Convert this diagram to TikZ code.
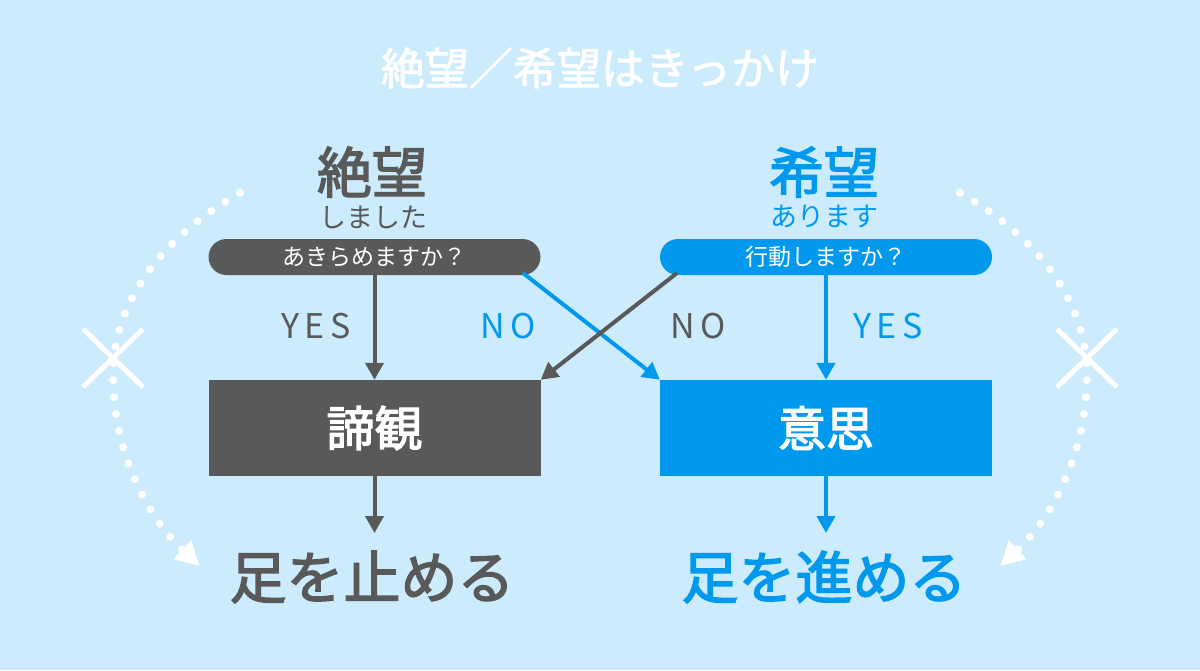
\documentclass[tikz,border=0pt]{standalone}
\usepackage{fontspec}
\usetikzlibrary{arrows.meta,calc}
\newfontfamily\cjk{Noto Sans CJK JP}
\newfontfamily\cjkm{Noto Sans CJK JP}[FakeBold=2.5]
\newfontfamily\cjkt{Noto Sans CJK JP}[FakeBold=1.8]
\newfontfamily\latn{Noto Sans CJK JP}[LetterSpace=16]
\definecolor{bg}{HTML}{CCEBFD}
\definecolor{dgray}{HTML}{595959}
\definecolor{mblue}{HTML}{0099EE}
\tikzset{
  pill/.style={rounded corners=18pt, minimum width=332pt, minimum height=36pt, inner sep=0pt, text=white, font=\cjk\fontsize{23}{23}\selectfont},
  bigbox/.style={minimum width=332pt, minimum height=96pt, inner sep=0pt, text=white, font=\cjkm\fontsize{48}{48}\selectfont},
  heading/.style={font=\cjkm\fontsize{55}{55}\selectfont, inner sep=0pt},
  sub/.style={font=\cjk\fontsize{27}{27}\selectfont, inner sep=0pt},
  yn/.style={font=\latn\fontsize{34}{34}\selectfont, inner sep=0pt},
  result/.style={font=\cjkm\fontsize{57}{57}\selectfont, inner sep=0pt},
  titletext/.style={font=\cjkt\fontsize{44}{44}\selectfont, inner sep=0pt},
  flowarrow/.style={line width=4pt, -{Triangle[length=17pt,width=18pt]}},
  dotarc/.style={white, line width=8pt, line cap=round, dash pattern=on 0pt off 17pt, -{Triangle[length=24pt,width=24pt]}},
  cross/.style={white, line width=5pt}
}
\begin{document}
\begin{tikzpicture}[x=1pt,y=-1pt]
\fill[bg] (0,0) rectangle (1200,670);
\useasboundingbox (0,0) rectangle (1200,670);

% title
\node[titletext, text=white] (title) at (600,68) {絶望／希望はきっかけ};

% left column
\node[heading, text=dgray] (h1) at (372,172) {絶望};
\node[sub, text=dgray] (s1) at (373,217) {しました};
\node[pill, fill=dgray] (q1) at (374.5,257) {あきらめますか？};
\node[bigbox, fill=dgray] (b1) at (374.5,428) {諦観};
\node[result, text=dgray] (r1) at (372,577) {足を止める};

% right column
\node[heading, text=mblue] (h2) at (824,172) {希望};
\node[sub, text=mblue] (s2) at (824,217) {あります};
\node[pill, fill=mblue] (q2) at (826,257) {行動しますか？};
\node[bigbox, fill=mblue] (b2) at (826,428) {意思};
\node[result, text=mblue] (r2) at (824,577) {足を進める};

% labels
\node[yn, text=dgray] (yes1) at (316,326) {YES};
\node[yn, text=mblue] (no1) at (508,326) {NO};
\node[yn, text=dgray] (no2) at (698,326) {NO};
\node[yn, text=mblue] (yes2) at (888,326) {YES};

% connectors
\draw[flowarrow, dgray] (q1.south) -- (b1.north);
\draw[flowarrow, mblue] (q2.south) -- (b2.north);
\coordinate (c1) at (523,273);
\coordinate (c2) at (677,273);
\draw[flowarrow, mblue] (c1) -- (b2.north west);
\draw[flowarrow, dgray] (c2) -- (b1.north east);
\coordinate (d1) at (374.5,533);
\coordinate (d2) at (826,533);
\draw[flowarrow, dgray] (b1.south) -- (d1);
\draw[flowarrow, mblue] (b2.south) -- (d2);

% dotted arcs
\coordinate (la) at (240,193);
\coordinate (lm) at (113,375);
\coordinate (lb) at (200,566);
\draw[dotarc] (la) .. controls (165,235) and (113,300) .. (lm) .. controls (113,455) and (150,520) .. (lb);
\coordinate (ra) at (960,193);
\coordinate (rm) at (1087,375);
\coordinate (rb) at (1000,566);
\draw[dotarc] (ra) .. controls (1035,235) and (1087,300) .. (rm) .. controls (1087,455) and (1050,520) .. (rb);

% crosses
\coordinate (x1) at (113,358);
\coordinate (x2) at (1087,358);
\draw[cross] ($(x1)+(-30,-29)$) -- ($(x1)+(30,29)$);
\draw[cross] ($(x1)+(-30,29)$) -- ($(x1)+(30,-29)$);
\draw[cross] ($(x2)+(-30,-29)$) -- ($(x2)+(30,29)$);
\draw[cross] ($(x2)+(-30,29)$) -- ($(x2)+(30,-29)$);
\end{tikzpicture}
\end{document}
